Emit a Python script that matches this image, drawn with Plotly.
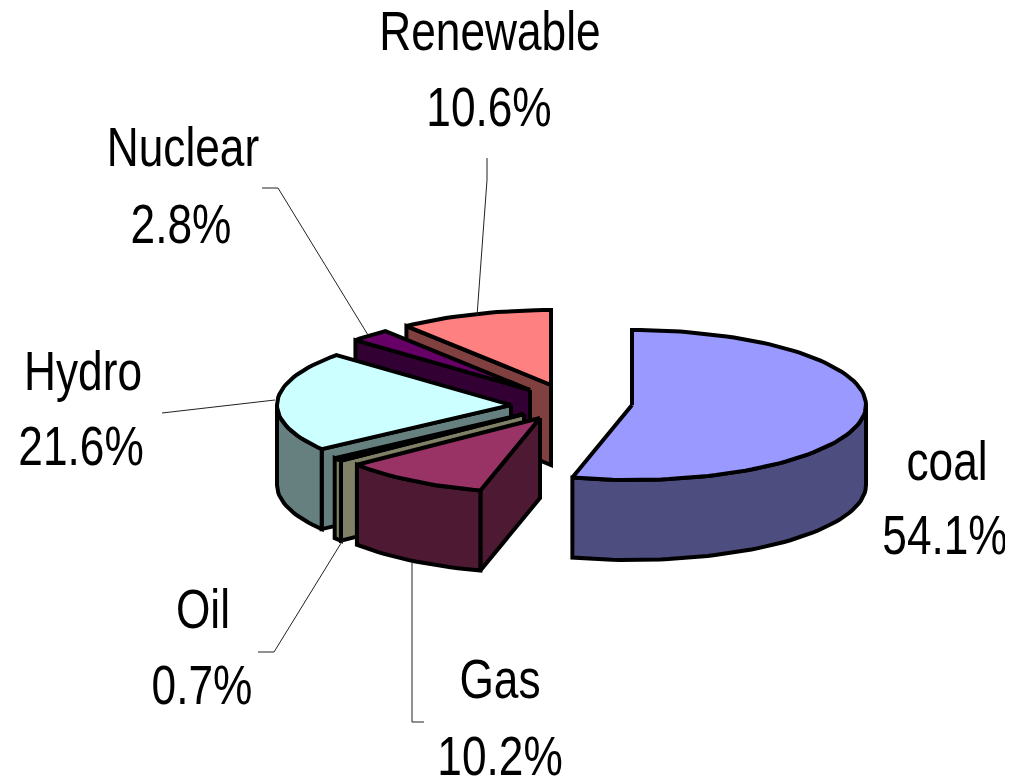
import math
import plotly.graph_objects as go

categories = ["Renewable", "coal", "Gas", "Oil", "Hydro", "Nuclear"]
shares = [10.6, 54.1, 10.2, 0.7, 21.6, 2.8]
top_colors = ["#FF8080", "#9999FF", "#993366", "#FFFFCC", "#CCFFFF", "#660066"]
wall_colors = ["#804040", "#4D4D80", "#4D1933", "#808066", "#668080", "#330033"]

APEX = {"coal": (632, 405), "Gas": (540, 418), "Oil": (524, 414), "Hydro": (511, 405),
        "Nuclear": (530, 390), "Renewable": (551, 385)}
NAME_POS = {"coal": (947, 466), "Gas": (500, 684), "Oil": (203, 614), "Hydro": (83, 376),
            "Nuclear": (183, 152), "Renewable": (490, 36)}
PCT_POS = {"coal": (945, 540), "Gas": (500, 761), "Oil": (202, 690), "Hydro": (81, 451),
           "Nuclear": (181, 229), "Renewable": (489, 112)}
LEADERS = [([487, 487, 477], [158, 180, 316]),
           ([262, 278, 368], [188, 188, 335]),
           ([162, 275], [413, 400]),
           ([258, 274, 343], [652, 652, 540]),
           ([424, 412, 412], [722, 722, 562])]
RX, RY, DEPTH = 234, 75, 80
ORDER = ["Renewable", "Nuclear", "Hydro", "Oil", "Gas", "coal"]

spans = {}
a = 0.0
scale = 360 / sum(shares)
for name, s in zip(categories[1:] + categories[:1], shares[1:] + shares[:1]):
    spans[name] = (a, a + s * scale)
    a += s * scale


def pt(apex, deg, dz=0):
    r = math.radians(deg)
    return apex[0] + RX * math.sin(r), apex[1] - RY * math.cos(r) + dz


def arc(apex, a0, a1, dz=0):
    n = max(2, int((a1 - a0) / 2) + 2)
    return [pt(apex, a0 + (a1 - a0) * i / (n - 1), dz) for i in range(n)]


fig = go.Figure()


def poly(points, color):
    fig.add_trace(go.Scatter(x=[p[0] for p in points] + [points[0][0]],
                             y=[p[1] for p in points] + [points[0][1]],
                             mode="lines", fill="toself", fillcolor=color,
                             line=dict(color="black", width=4), hoverinfo="skip",
                             showlegend=False))


for name in ORDER:
    i = categories.index(name)
    a0, a1 = spans[name]
    ap = APEX[name]
    wall, top = wall_colors[i], top_colors[i]
    if math.sin(math.radians(a0)) < -1e-9:
        p = pt(ap, a0)
        poly([ap, p, (p[0], p[1] + DEPTH), (ap[0], ap[1] + DEPTH)], wall)
    if math.sin(math.radians(a1)) > 1e-9:
        p = pt(ap, a1)
        poly([ap, p, (p[0], p[1] + DEPTH), (ap[0], ap[1] + DEPTH)], wall)
    w0, w1 = max(a0, 90), min(a1, 270)
    if w1 > w0:
        poly(arc(ap, w0, w1) + arc(ap, w0, w1, DEPTH)[::-1], wall)
    poly([ap] + arc(ap, a0, a1), top)

for lx, ly in LEADERS:
    fig.add_trace(go.Scatter(x=lx, y=ly, mode="lines", line=dict(color="#222222", width=1),
                             hoverinfo="skip", showlegend=False))

FONT = "Liberation Sans, Arial, sans-serif"
for pos, texts in ((NAME_POS, categories), (PCT_POS, [f"{s}%" for s in shares])):
    fig.add_trace(go.Scatter(
        x=[pos[c][0] for c in categories], y=[pos[c][1] for c in categories],
        mode="text", text=texts, textposition="middle center",
        textfont=dict(family=FONT, size=56, color="black"),
        cliponaxis=False, hoverinfo="skip", showlegend=False))

# The page body has an 8 px margin: the plot fills the rest of the window.
fig.update_layout(
    width=1005, height=770, margin=dict(l=0, r=0, t=0, b=0),
    paper_bgcolor="white", plot_bgcolor="white", showlegend=False,
    xaxis=dict(range=[8, 1013], visible=False, fixedrange=True),
    yaxis=dict(range=[778, 8], visible=False, fixedrange=True),
)
# Reference glyphs are horizontally condensed.
squeeze = """
document.querySelectorAll('.textpoint text').forEach(function (t) {
  t.style.transformBox = 'fill-box';
  t.style.transformOrigin = 'center';
  t.style.transform = 'scaleX(0.79)';
});
"""
fig.write_html("out.html", post_script=squeeze)
